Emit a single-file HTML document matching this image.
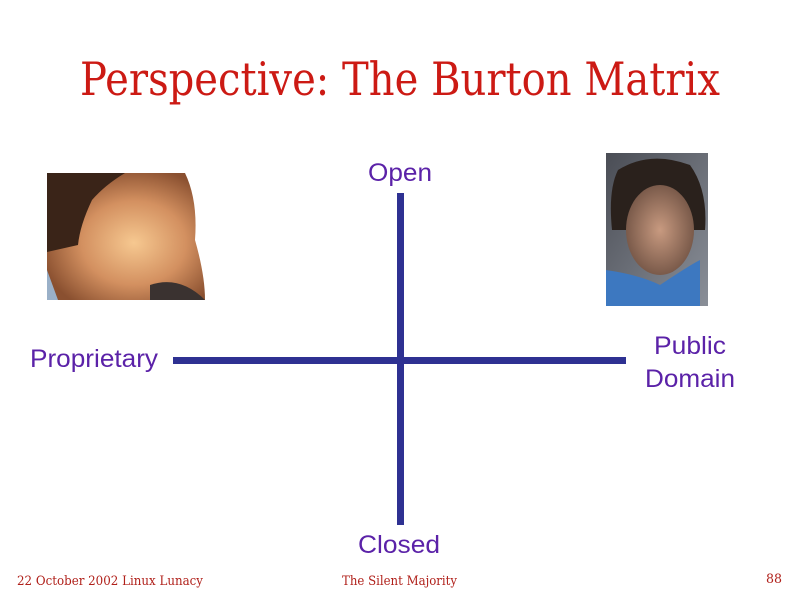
<!DOCTYPE html>
<html><head><meta charset="utf-8"><style>
html,body{margin:0;padding:0;background:#fff;}
body{width:800px;height:600px;overflow:hidden;position:relative;}
</style></head><body>
<svg width="800" height="600" xmlns="http://www.w3.org/2000/svg" style="position:absolute;left:0;top:0">
<defs>
<radialGradient id="face1" cx="0.55" cy="0.55" r="0.6">
<stop offset="0" stop-color="#f6c890"/><stop offset="0.55" stop-color="#d39060"/><stop offset="1" stop-color="#8a5030"/>
</radialGradient>
<linearGradient id="bg2" x1="0" y1="0" x2="1" y2="1">
<stop offset="0" stop-color="#4a4d55"/><stop offset="1" stop-color="#8a8f98"/>
</linearGradient>
<radialGradient id="face2" cx="0.5" cy="0.5" r="0.5">
<stop offset="0" stop-color="#c89a80"/><stop offset="1" stop-color="#7a5a4a"/>
</radialGradient>
</defs>
<text x="80" y="95" textLength="640" lengthAdjust="spacingAndGlyphs" font-family="DejaVu Serif, Liberation Serif, serif" font-size="46" fill="#cc1a14">Perspective: The Burton Matrix</text>

<!-- left photo -->
<rect x="47" y="173" width="166" height="127" fill="#fff"/>
<path d="M47 173 H185 Q198 200 195 240 Q205 275 205 300 H47 Z" fill="url(#face1)"/>
<path d="M47 173 H125 Q105 185 92 200 Q80 225 78 245 L47 252 Z" fill="#3a2418"/>
<path d="M150 285 Q180 275 205 300 H150 Z" fill="#3a3230"/>
<path d="M47 270 L58 300 H47 Z" fill="#9ab0c8"/>

<!-- right photo -->
<rect x="606" y="153" width="102" height="153" fill="url(#bg2)"/>
<path d="M618 170 Q650 150 690 165 Q708 190 705 230 L612 230 Q608 190 618 170 Z" fill="#2a211c"/>
<ellipse cx="660" cy="230" rx="34" ry="45" fill="url(#face2)"/>
<path d="M606 270 Q640 275 660 285 Q690 265 700 260 V306 H606 Z" fill="#3d78c0"/>

<!-- axes -->
<rect x="173" y="357" width="453" height="7" fill="#2e3192"/>
<rect x="397" y="193" width="7" height="332" fill="#2e3192"/>

<g font-family="Liberation Sans, sans-serif" font-size="25" fill="#5b22a8">
<text x="368" y="181" textLength="64" lengthAdjust="spacingAndGlyphs">Open</text>
<text x="358" y="553" textLength="82" lengthAdjust="spacingAndGlyphs">Closed</text>
<text x="30" y="367" textLength="128" lengthAdjust="spacingAndGlyphs">Proprietary</text>
<text x="654" y="354" textLength="72" lengthAdjust="spacingAndGlyphs">Public</text>
<text x="645" y="387" textLength="90" lengthAdjust="spacingAndGlyphs">Domain</text>
</g>
<g font-family="DejaVu Serif, Liberation Serif, serif" font-size="13" fill="#b0201a">
<text x="17" y="585" textLength="186" lengthAdjust="spacingAndGlyphs">22 October 2002 Linux Lunacy</text>
<text x="342" y="585" textLength="115" lengthAdjust="spacingAndGlyphs">The Silent Majority</text>
<text x="766" y="583" textLength="16" lengthAdjust="spacingAndGlyphs">88</text>
</g>
</svg>
</body></html>
